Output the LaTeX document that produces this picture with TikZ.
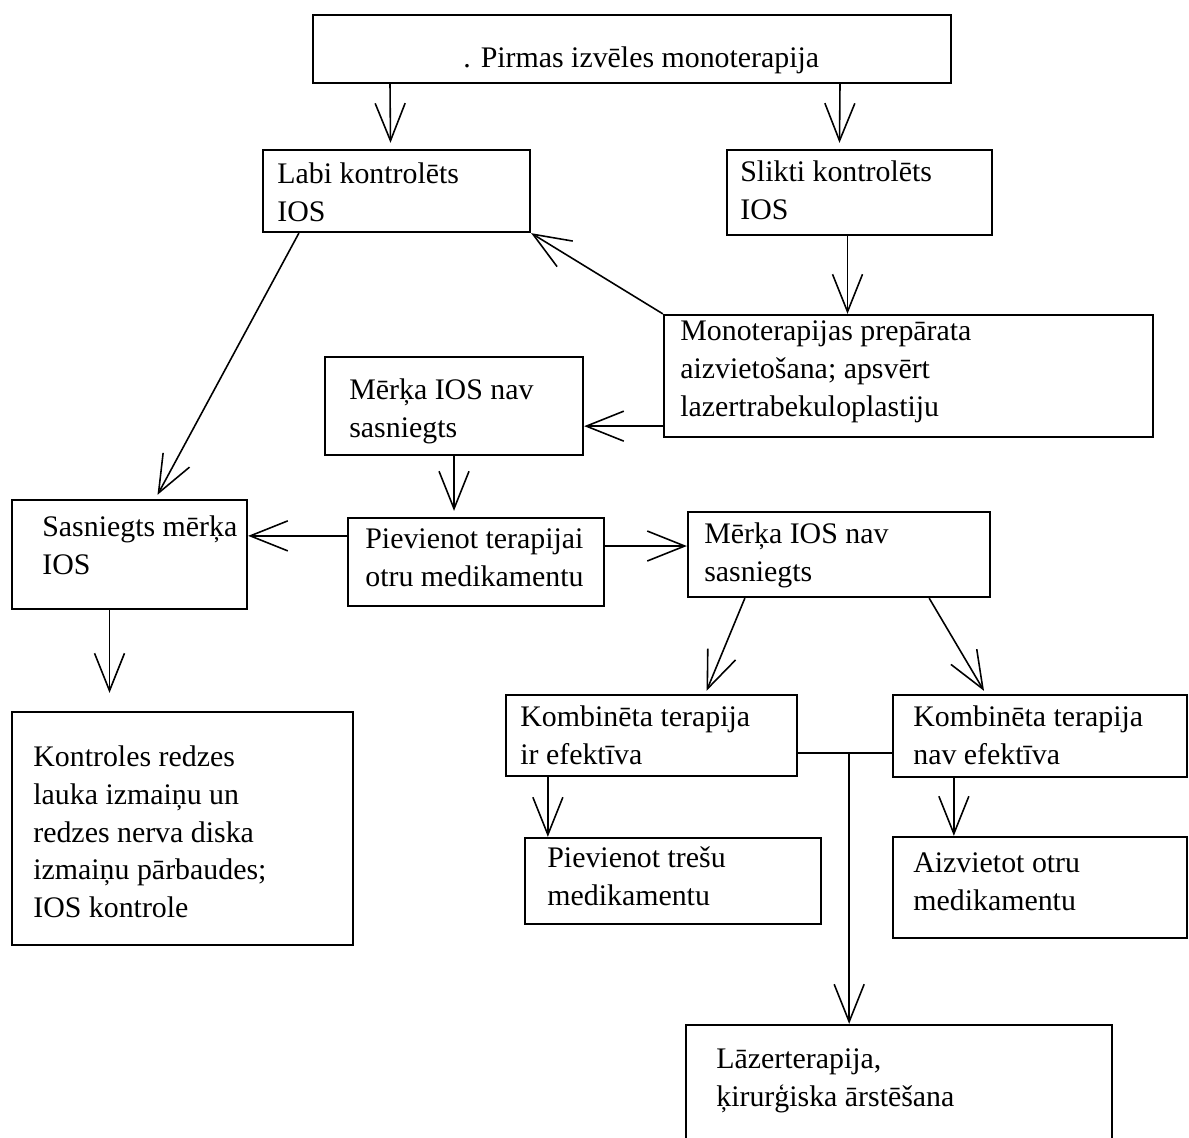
\documentclass[tikz,border=0pt]{standalone}
\usepackage{fontspec}
\setmainfont{Liberation Serif}
\usetikzlibrary{arrows.meta, calc, fit}

\begin{document}
\begin{tikzpicture}[
  x=0.02cm, y=-0.02cm,
  >={Straight Barb[length=0.75cm, width=0.6cm]},
  every node/.style={font=\fontsize{17}{21.5}\selectfont},
  box/.style = {draw, line width=1.3pt, inner sep=0pt},
  txt/.style = {align=left, inner sep=0pt, anchor=north west, yshift=-0.13cm,
                execute at begin node=\strut},
  arr/.style = {->, line width=0.9pt},
  ln/.style  = {line width=0.9pt},
]
  \useasboundingbox[fill=white] (0,0) rectangle (1189,1137);

  % boxes
  \node[box, fit={(313,15) (951,83)}]    (first)  {};
  \node[box, fit={(263,150) (530,232)}]  (good)   {};
  \node[box, fit={(727,150) (992,235)}]  (poor)   {};
  \node[box, fit={(664,315) (1153,437)}] (swap)   {};
  \node[box, fit={(325,357) (583,455)}]  (miss1)  {};
  \node[box, fit={(12,500) (247,609)}]   (hit)    {};
  \node[box, fit={(348,518) (604,606)}]  (add2)   {};
  \node[box, fit={(688,512) (990,597)}]  (miss2)  {};
  \node[box, fit={(12,712) (353,945)}]   (watch)  {};
  \node[box, fit={(506,695) (797,776)}]  (combok) {};
  \node[box, fit={(893,695) (1187,777)}] (combno) {};
  \node[box, fit={(525,838) (821,924)}]  (add3)   {};
  \node[box, fit={(893,837) (1187,938)}] (swap2)  {};
  \node[box, fit={(686,1025) (1112,1160)}] (surg) {};

  % texts
  \node[txt] (first-t)  at (463,34)   {. Pirmas izvēles monoterapija};
  \node[txt] (good-t)   at (277,156)  {Labi kontrolēts\\IOS};
  \node[txt] (poor-t)   at (740,154)  {Slikti kontrolēts\\IOS};
  \node[txt] (swap-t)   at (680,314)  {Monoterapijas prepārata\\aizvietošana; apsvērt\\lazertrabekuloplastiju};
  \node[txt] (miss1-t)  at (349,372)  {Mērķa IOS nav\\sasniegts};
  \node[txt] (hit-t)    at (42,509)   {Sasniegts mērķa\\IOS};
  \node[txt] (add2-t)   at (365,522)  {Pievienot terapijai\\otru medikamentu};
  \node[txt] (miss2-t)  at (704,516)  {Mērķa IOS nav\\sasniegts};
  \node[txt] (watch-t)  at (33,739)   {Kontroles redzes\\lauka izmaiņu un\\redzes nerva diska\\izmaiņu pārbaudes;\\IOS kontrole};
  \node[txt] (combok-t) at (520,699)  {Kombinēta terapija\\ir efektīva};
  \node[txt] (combno-t) at (913,699)  {Kombinēta terapija\\nav efektīva};
  \node[txt] (add3-t)   at (547,840)  {Pievienot trešu\\medikamentu};
  \node[txt] (swap2-t)  at (913,846)  {Aizvietot otru\\medikamentu};
  \node[txt] (surg-t)   at (716,1042) {Lāzerterapija,\\ķirurģiska ārstēšana};

  % connectors
  \draw[arr] (first.south -| 390,0) -- ($(good.north)+(-6,-6)$);
  \draw[arr] (first.south -| 840,0) -- ($(poor.north)+(-20,-6)$);
  \draw[arr] ($(poor.south)+(-12,0)$) coordinate (c1) -- (c1 |- swap.north);
  \draw[arr] (swap.north west) -- (good.south east);
  \draw[arr] ($(swap.south west)+(0,-12)$) coordinate (c2) -- (c2 -| miss1.east);
  \draw[arr] ($(good.south west)+(37,0)$) -- ($(hit.north)+(28,-4)$);
  \draw[arr] (miss1.south) -- ($(miss1.south |- add2.north)+(0,-6)$);
  \draw[arr] ($(add2.north west)+(0,19)$) coordinate (c3) -- (c3 -| hit.east);
  \draw[arr] ($(add2.east)+(0,-16)$) coordinate (c4) -- (c4 -| miss2.west);
  \draw[arr] ($(hit.south)+(-20,0)$) coordinate (c5) -- ($(c5 |- watch.north)+(0,-18)$);
  \draw[arr] ($(miss2.south west)+(58,0)$) -- ($(combok.north)+(55,-3)$);
  \draw[arr] ($(miss2.south east)+(-62,0)$) -- ($(combno.north)+(-56,-3)$);
  \draw[arr] ($(combok.south west)+(43,0)$) coordinate (c6) -- (c6 |- add3.north);
  \draw[arr] ($(combno.south west)+(62,0)$) coordinate (c7) -- (c7 |- swap2.north);
  \draw[ln] ($(combok.south east)+(0,-24)$) coordinate (c8) -- (c8 -| combno.west);
  \draw[arr] ($(c8)+(51,0)$) coordinate (c9) -- (c9 |- surg.north);
\end{tikzpicture}
\end{document}
